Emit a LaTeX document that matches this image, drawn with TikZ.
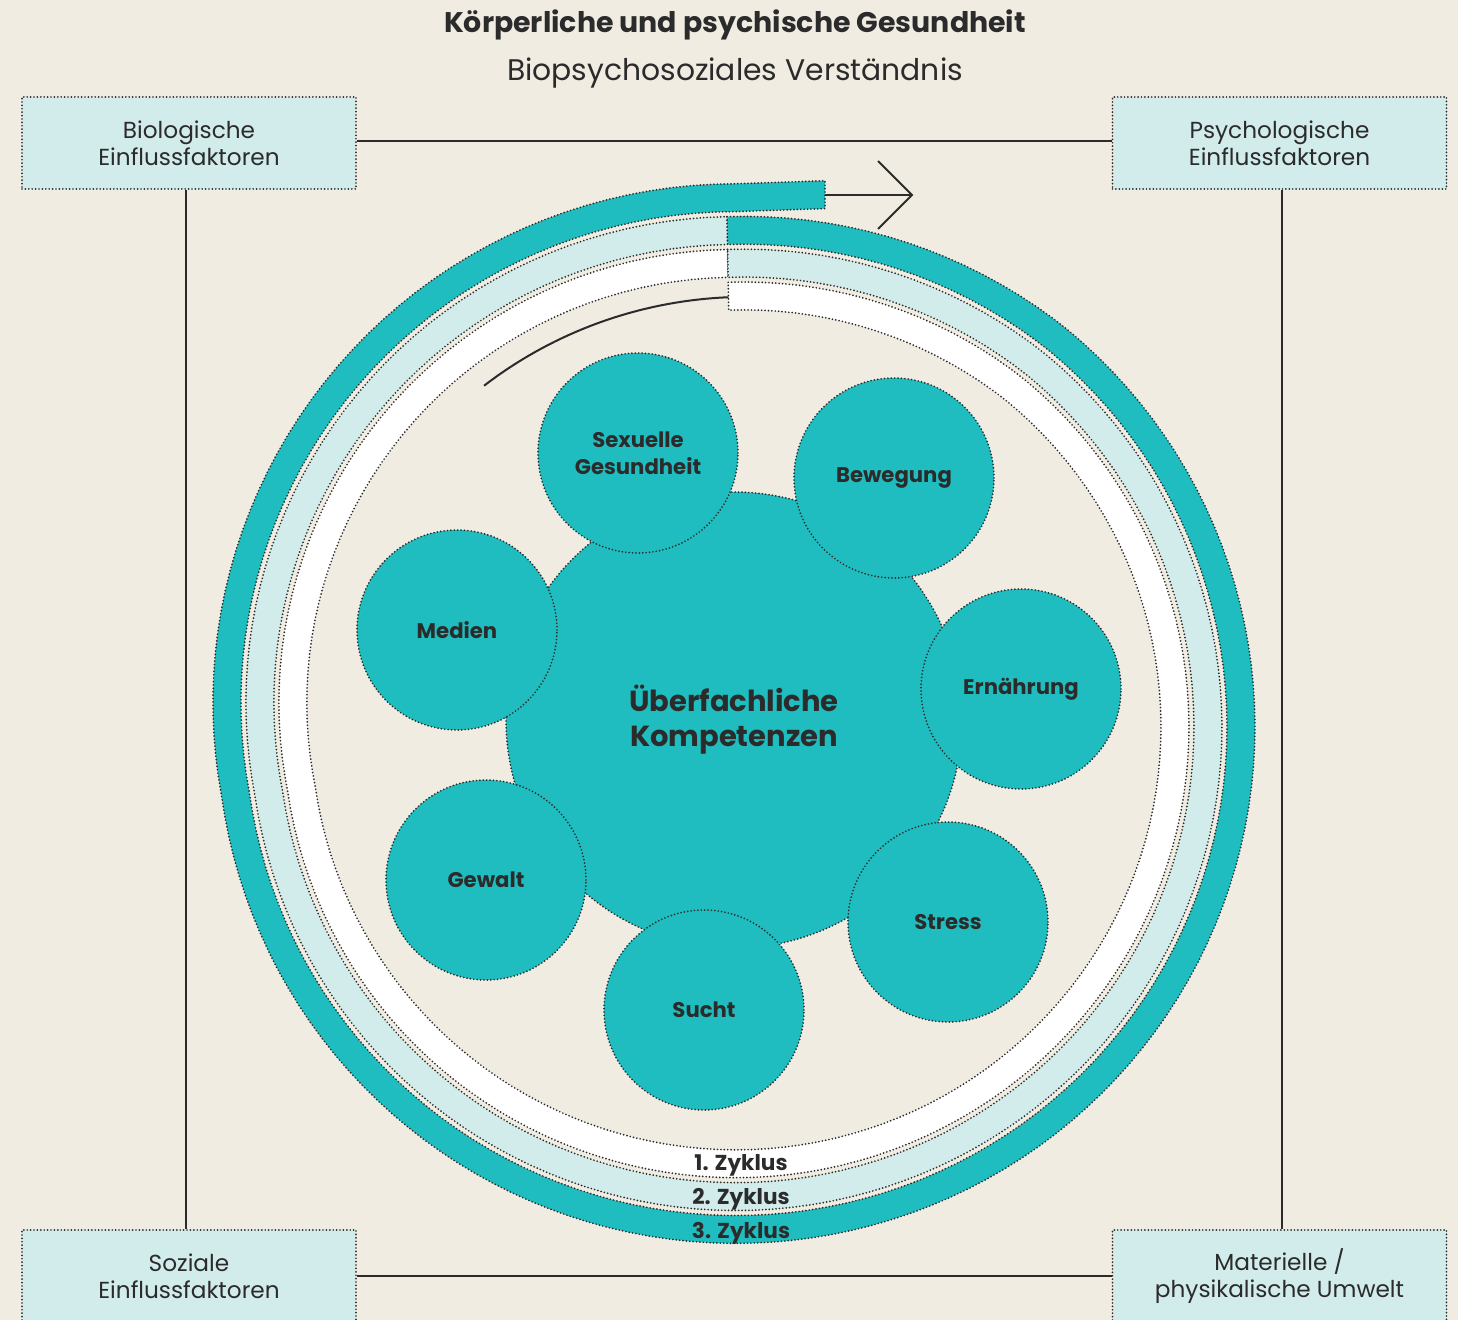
\documentclass[tikz,border=0pt]{standalone}
\usepackage{fontspec}
\setmainfont{Poppins}
\usetikzlibrary{calc}
\definecolor{bg}{HTML}{F0ECE2}
\definecolor{tealc}{HTML}{1FBDBF}
\definecolor{lteal}{HTML}{D2ECEC}
\definecolor{ink}{HTML}{2B2B2B}
\newcommand\ringband[3]{% #1 style, #2 radial offset, #3 end angle
  \path[#1] plot[domain=-1:#3,samples=160] ({px(\x,Rs(\x)-#2)},{py(\x,Rs(\x)-#2)})
    -- plot[domain=#3:-1,samples=160] ({px(\x,Rs(\x)-#2-28)},{py(\x,Rs(\x)-#2-28)}) -- cycle;}
\begin{document}
\begin{tikzpicture}[x=0.5pt,y=-0.5pt,
  declare function={Rs(\t)=513+6*min(1,(\t+1)/40)+27*sin(90*max(0,\t-262)/97);
    px(\t,\r)=736+\r*sin(\t); py(\t,\r)=727-0.995*\r*cos(\t);},
  dots/.style={draw=ink, line width=0.95pt, dash pattern=on 0pt off 1.7pt, line cap=round},
  conn/.style={draw=ink, line width=1pt},
  infobox/.style={rectangle, fill=lteal, dots, minimum width=167pt, minimum height=46pt,
    align=center, text=ink, font=\fontsize{11.6}{13.5}\selectfont},
  topic/.style={circle, fill=tealc, dots, minimum size=100pt, inner sep=0pt, align=center,
    text=ink, font=\bfseries\fontsize{10.6}{13.5}\selectfont},
  cyc/.style={text=ink, font=\bfseries\fontsize{10.8}{12}\selectfont, inner sep=0pt},
]
\useasboundingbox (0,0) rectangle (1458,1320);
\fill[bg] (0,0) rectangle (1458,1320);
\clip (0,0) rectangle (1458,1320);

% titles
\node[text=ink, font=\bfseries\fontsize{14.2}{16}\selectfont] (title) at (735,25) {Körperliche und psychische Gesundheit};
\node[text=ink, font=\fontsize{14.9}{16}\selectfont] (subtitle) at (735,73) {Biopsychosoziales Verständnis};

% corner boxes
\node[infobox] (bio) at (189,143) {Biologische\\Einflussfaktoren};
\node[infobox] (psy) at (1279.5,143) {Psychologische\\Einflussfaktoren};
\node[infobox] (soz) at (189,1276) {Soziale\\Einflussfaktoren};
\node[infobox] (mat) at (1279.5,1276) {Materielle /\\physikalische Umwelt};
\draw[conn] ([yshift=1pt]bio.east) -- ([yshift=1pt]psy.west);
\draw[conn] ([xshift=-1.5pt]bio.south) -- ([xshift=-1.5pt]soz.north);
\draw[conn] ([xshift=1.25pt]psy.south) -- ([xshift=1.25pt]mat.north);
\draw[conn] (soz.east) -- (mat.west);

% spiral rings
\ringband{fill=white, dots}{66}{359}
\ringband{fill=lteal, dots}{33}{359}
\path[fill=tealc, dots]
  plot[domain=-1:360,samples=160] ({px(\x,Rs(\x))},{py(\x,Rs(\x))})
  -- (825,{py(360,Rs(360))-3}) -- (825,{py(360,Rs(360)-28)-3})
  -- ({px(360,Rs(360)-28)},{py(360,Rs(360)-28)})
  -- plot[domain=360:-1,samples=160] ({px(\x,Rs(\x)-28)},{py(\x,Rs(\x)-28)}) -- cycle;

% start line into the first cycle
\draw[ink, line width=1pt] plot[domain=323.7:359,samples=60]
  ({px(\x,425.6+6.4*(\x-323.7)/35.3)},{py(\x,425.6+6.4*(\x-323.7)/35.3)});

% end arrow
\coordinate (aend) at (825,195);
\coordinate (atip) at (912,195);
\draw[conn] (aend) -- (atip);
\draw[conn, line join=miter] (878,161) -- (atip) -- (878,229);

% cycle labels
\node[cyc] (z1) at (741,1165) {1. Zyklus};
\node[cyc] (z2) at (741,1199) {2. Zyklus};
\node[cyc] (z3) at (741,1233) {3. Zyklus};

% centre and topics
\node[circle, fill=tealc, dots, minimum size=228pt, inner sep=0pt, align=center, text=ink,
  font=\bfseries\fontsize{14.5}{17.5}\selectfont] (core) at (734,720) {Überfachliche\\Kompetenzen};
\node[topic] (sex) at (638,453) {Sexuelle\\Gesundheit};
\node[topic] (bew) at (894,478) {Bewegung};
\node[topic] (med) at (457,630) {Medien};
\node[topic] (ern) at (1021,689) {Ernährung};
\node[topic] (gew) at (486,880) {Gewalt};
\node[topic] (str) at (948,922) {Stress};
\node[topic] (suc) at (704,1010) {Sucht};
\end{tikzpicture}
\end{document}
